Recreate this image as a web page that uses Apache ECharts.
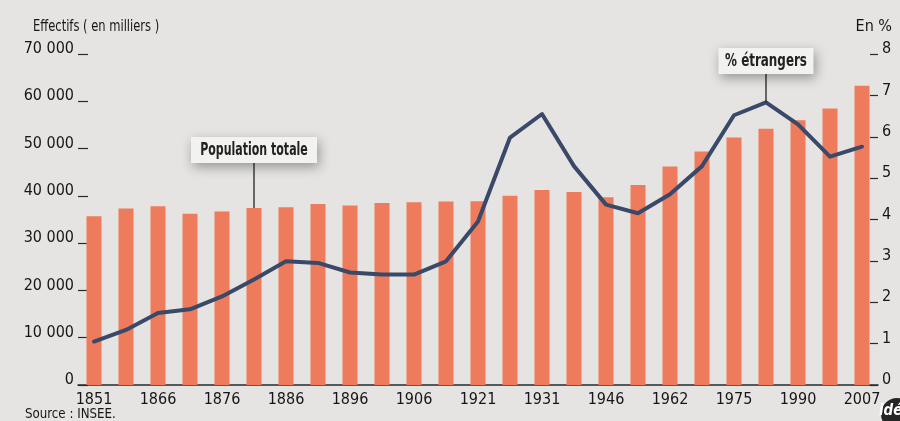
<!DOCTYPE html>
<html>
<head>
<meta charset="utf-8">
<script src="https://cdn.jsdelivr.net/npm/echarts@6/dist/echarts.min.js"></script>
<style>
html,body{margin:0;padding:0;background:#e5e4e2;}
#c{width:900px;height:421px;}
</style>
</head>
<body>
<div id="c"></div>
<script>
// Data
const years = ['1851','1861','1866','1872','1876','1881','1886','1891','1896','1901','1906','1911','1921','1926','1931','1936','1946','1954','1962','1968','1975','1982','1990','1999','2007'];
const population = [35700,37300,37800,36200,36700,37450,37600,38300,37950,38500,38650,38800,38850,40000,41250,40800,39700,42300,46200,49400,52350,54200,56000,58450,63300];
const pctEtrangers = [1.05,1.33,1.74,1.83,2.14,2.55,2.99,2.95,2.72,2.67,2.67,2.99,3.95,5.98,6.55,5.29,4.36,4.15,4.61,5.29,6.52,6.83,6.30,5.52,5.76];
const leftTicks = ['0','10 000','20 000','30 000','40 000','50 000','60 000','70 000'];
const rightTicks = ['0','1','2','3','4','5','6','7','8'];

const FONT = '"Liberation Sans Narrow","DejaVu Sans Condensed",sans-serif';
const TXT = '#161616';
const chart = echarts.init(document.getElementById('c'), null, {renderer:'canvas'});

const option = {
  backgroundColor: '#e5e4e2',
  animation: false,
  grid: {left: 78, right: 22, top: 54, bottom: 36, containLabel: false},
  xAxis: {
    type: 'category',
    data: years,
    boundaryGap: true,
    axisLine: {show: true, lineStyle: {color: '#2a2a2a', width: 1.5}},
    axisTick: {show: false},
    axisLabel: {
      interval: 1, margin: 7, color: TXT, fontFamily: FONT, fontSize: 16
    }
  },
  yAxis: [
    {
      type: 'value', min: 0, max: 70000, interval: 10000, position: 'left',
      axisLine: {show: false},
      axisTick: {show: true, inside: true, length: 10, lineStyle: {color: '#2a2a2a', width: 1.2}},
      splitLine: {show: false},
      axisLabel: {
        margin: 4, color: TXT, fontFamily: FONT, fontSize: 16, verticalAlign: 'bottom', lineHeight: 10,
        formatter: (v) => leftTicks[Math.round(v / 10000)]
      }
    },
    {
      type: 'value', min: 0, max: 8, interval: 1, position: 'right',
      axisLine: {show: false},
      axisTick: {show: true, inside: true, length: 8, lineStyle: {color: '#2a2a2a', width: 1.2}},
      splitLine: {show: false},
      axisLabel: {
        margin: 4, color: TXT, fontFamily: FONT, fontSize: 16, verticalAlign: 'bottom', lineHeight: 10,
        formatter: (v) => rightTicks[Math.round(v)]
      }
    }
  ],
  series: [
    {
      type: 'bar', data: population, yAxisIndex: 0, barWidth: 15,
      itemStyle: {color: '#ee7c5c'}
    },
    {
      type: 'line', data: pctEtrangers, yAxisIndex: 1, symbol: 'none', smooth: false,
      lineStyle: {color: '#3a4968', width: 4, join: 'round', cap: 'round'},
      z: 5
    }
  ],
  graphic: [
    {type: 'text', x: 33, y: 19, scaleX: 0.8, style: {text: 'Effectifs ( en milliers )', fill: TXT, font: '16px ' + FONT}},
    {type: 'text', right: 8, top: 19, style: {text: 'En %', fill: TXT, font: '16px ' + FONT}},
    {type: 'text', x: 25, y: 407, scaleX: 0.94, style: {text: 'Source : INSEE.', fill: TXT, font: '14px ' + FONT}}
  ]
};
chart.setOption(option);

// Annotations anchored to data via the library's scales
const pPop = chart.convertToPixel({seriesIndex: 0}, [5, population[5]]);
const pPct = chart.convertToPixel({seriesIndex: 1}, [21, pctEtrangers[21]]);
function callout(anchor, text, w, boxTop, boxH, sx) {
  const x0 = anchor[0] - w / 2;
  return [
    {type: 'line', shape: {x1: anchor[0], y1: boxTop + boxH, x2: anchor[0], y2: anchor[1]}, style: {stroke: '#222', lineWidth: 1.3}, z: 10},
    {type: 'rect', shape: {x: x0, y: boxTop, width: w, height: boxH}, style: {fill: '#f2f2f0', shadowBlur: 12, shadowColor: 'rgba(0,0,0,0.35)', shadowOffsetX: 2, shadowOffsetY: 4}, z: 11},
    {type: 'text', x: anchor[0], y: boxTop + boxH / 2 + 1, scaleX: sx, style: {text: text, fill: '#222', font: 'bold 17px ' + FONT, align: 'center', verticalAlign: 'middle'}, z: 12}
  ];
}
const extra = [].concat(
  callout(pPop, 'Population totale', 126, 137, 26, 0.72),
  callout(pPct, '% étrangers', 95, 48, 26, 0.78),
  [
    {type: 'circle', shape: {cx: 897, cy: 414, r: 16}, style: {fill: '#262626'}, z: 10},
    {type: 'text', x: 879, y: 404, style: {text: 'idé', fill: '#fff', font: 'italic bold 15px ' + FONT}, z: 11}
  ]
);
chart.setOption({graphic: option.graphic.concat(extra)});
</script>
</body>
</html>
